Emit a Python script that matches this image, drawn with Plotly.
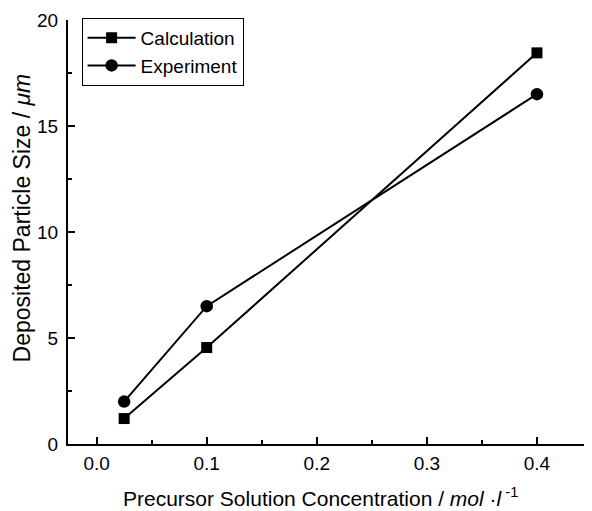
import plotly.graph_objects as go

conc = [0.025, 0.1, 0.4]
calc = [1.2, 4.55, 18.45]
expt = [2.0, 6.5, 16.5]
x_ticks = [0.0, 0.1, 0.2, 0.3, 0.4]
x_tick_labels = ["0.0", "0.1", "0.2", "0.3", "0.4"]
y_ticks = [0, 5, 10, 15, 20]

fig = go.Figure()
fig.add_trace(go.Scatter(x=conc, y=calc, mode="lines+markers", name="Calculation",
                         line=dict(color="black", width=2),
                         marker=dict(symbol="square", size=11, color="black")))
fig.add_trace(go.Scatter(x=conc, y=expt, mode="lines+markers", name="Experiment",
                         line=dict(color="black", width=2),
                         marker=dict(symbol="circle", size=12.5, color="black")))

font = "Liberation Sans, Arial, sans-serif"
fig.update_layout(
    width=584, height=503,
    margin=dict(l=60, r=0, t=12, b=67),
    paper_bgcolor="white", plot_bgcolor="white",
    font=dict(family=font, size=19, color="black"),
    showlegend=True,
    legend=dict(x=0.026, y=1.005, xanchor="left", yanchor="top",
                bordercolor="black", borderwidth=1, bgcolor="white",
                font=dict(size=19), itemwidth=48, tracegroupgap=0),
    xaxis=dict(range=[-0.026, 0.45], tickvals=x_ticks, ticktext=x_tick_labels,
               ticks="inside", ticklen=7, tickwidth=1.5, tickcolor="black",
               showline=True, linecolor="black", linewidth=2,
               showgrid=False, zeroline=False, automargin=False,
               minor=dict(dtick=0.05, ticks="inside", ticklen=4, tickcolor="black", tickwidth=1.5),
               tickfont=dict(size=19), ticklabelstandoff=1),
    yaxis=dict(range=[0, 20], tickvals=y_ticks,
               ticks="inside", ticklen=7, tickwidth=1.5, tickcolor="black",
               showline=True, linecolor="black", linewidth=2,
               showgrid=False, zeroline=False, automargin=False,
               minor=dict(dtick=2.5, ticks="inside", ticklen=4, tickcolor="black", tickwidth=1.5),
               tickfont=dict(size=19), ticklabelstandoff=4),
)
fig.add_annotation(text="Precursor Solution Concentration / <i>mol</i> ·<i>l</i><sup> -1</sup>",
                   xref="paper", yref="paper", x=0.481, y=0, xanchor="center", yanchor="middle",
                   yshift=-53, showarrow=False, font=dict(size=21))
fig.add_annotation(text="Deposited Particle Size / <i>μm</i>",
                   xref="paper", yref="paper", x=0, y=0.532, xanchor="center", yanchor="middle",
                   xshift=-46, textangle=-90, showarrow=False, font=dict(size=23))

fig.write_html("out.html")
